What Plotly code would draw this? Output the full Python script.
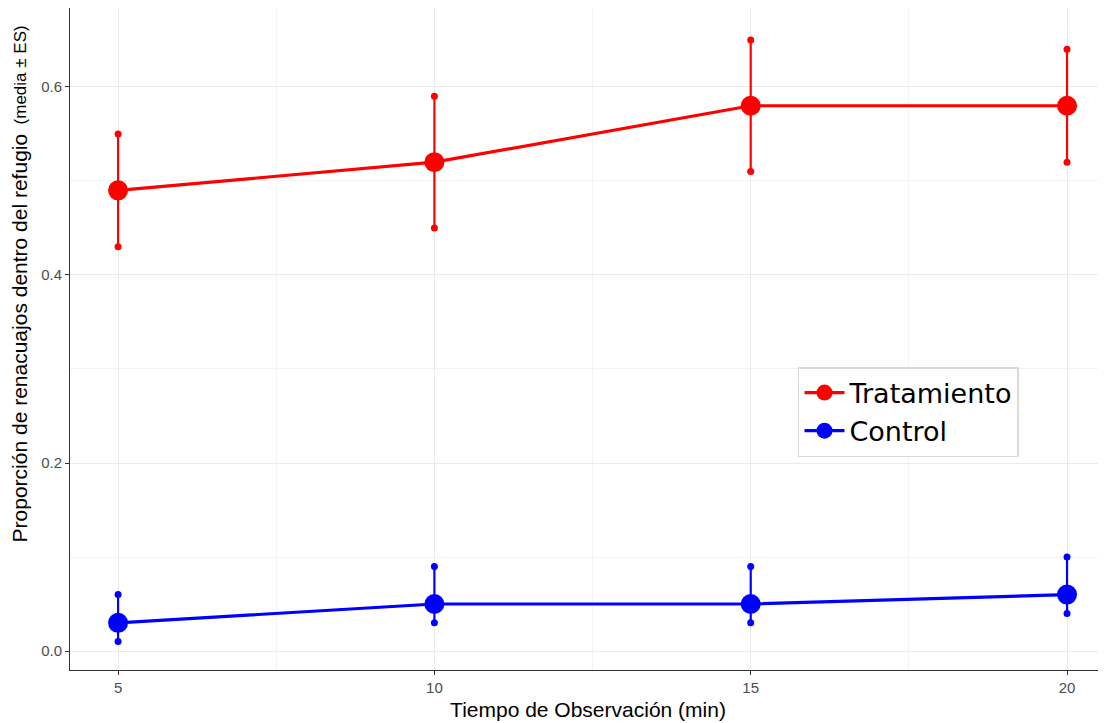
import plotly.graph_objects as go

tiempo = [5, 10, 15, 20]
trat_media = [0.49, 0.52, 0.58, 0.58]
trat_low = [0.43, 0.45, 0.51, 0.52]
trat_high = [0.55, 0.59, 0.65, 0.64]
ctrl_media = [0.03, 0.05, 0.05, 0.06]
ctrl_low = [0.01, 0.03, 0.03, 0.04]
ctrl_high = [0.06, 0.09, 0.09, 0.10]

series = [
    ("Tratamiento", "#ff0000", trat_media, trat_low, trat_high),
    ("Control", "#0000ff", ctrl_media, ctrl_low, ctrl_high),
]

fig = go.Figure()
for name, col, m, lo, hi in series:
    ex, ey = [], []
    for xi, l, h in zip(tiempo, lo, hi):
        ex += [xi, xi, None]
        ey += [l, h, None]
    fig.add_trace(go.Scatter(x=ex, y=ey, mode="lines+markers", showlegend=False,
                             line=dict(color=col, width=2.2),
                             marker=dict(color=col, size=7), hoverinfo="skip"))
for name, col, m, lo, hi in series:
    fig.add_trace(go.Scatter(x=tiempo, y=m, mode="lines+markers", name=name,
                             line=dict(color=col, width=3.2),
                             marker=dict(color=col, size=20)))

axis_font = dict(family="Liberation Sans, Arial, sans-serif", size=15, color="#4d4d4d")
title_font = dict(family="Liberation Sans, Arial, sans-serif", size=21, color="black")

# y-axis title as two rotated annotations (main text + smaller parenthetical)
fig.add_annotation(text="Proporción de renacuajos dentro del refugio", textangle=-90,
                   xref="paper", yref="paper", x=-0.0483, y=0.5023,
                   xanchor="center", yanchor="middle", showarrow=False, font=title_font)
fig.add_annotation(text="(media ± ES)", textangle=-90,
                   xref="paper", yref="paper", x=-0.0474, y=0.8995,
                   xanchor="center", yanchor="middle", showarrow=False,
                   font=dict(family="Liberation Sans, Arial, sans-serif", size=17, color="black"))

fig.update_layout(
    width=1098, height=715,
    margin=dict(l=62, r=0, t=0, b=53),
    paper_bgcolor="white", plot_bgcolor="white",
    showlegend=True,
    legend=dict(x=0.7027, y=0.4577, xanchor="left", yanchor="top",
                bgcolor="white", bordercolor="#d9d9d9", borderwidth=1.5,
                font=dict(family="DejaVu Sans, sans-serif", size=27, color="black"),
                itemwidth=40, tracegroupgap=0),
    xaxis=dict(range=[4.24, 20.616], tickvals=[5, 10, 15, 20], ticktext=["5", "10", "15", "20"],
               automargin=False,
               showgrid=True, gridcolor="#ebebeb", gridwidth=1.2,
               minor=dict(tickvals=[7.5, 12.5, 17.5], showgrid=True, gridcolor="#f3f3f3", gridwidth=0.6, ticks=""),
               showline=True, linecolor="#333333", linewidth=1, mirror=True,
               ticks="outside", ticklen=4, tickcolor="#333333", tickfont=axis_font,
               zeroline=False,
               title=dict(text="Tiempo de Observación (min)", standoff=7, font=title_font)),
    yaxis=dict(range=[-0.0202, 0.684], tickvals=[0.0, 0.2, 0.4, 0.6], ticktext=["0.0", "0.2", "0.4", "0.6"],
               automargin=False,
               showgrid=True, gridcolor="#ebebeb", gridwidth=1.2,
               minor=dict(tickvals=[0.1, 0.3, 0.5], showgrid=True, gridcolor="#f3f3f3", gridwidth=0.6, ticks=""),
               showline=True, linecolor="#333333", linewidth=1, mirror=False,
               ticks="outside", ticklen=4, tickcolor="#333333", tickfont=axis_font,
               zeroline=False),
)

fig.write_html("out.html")
